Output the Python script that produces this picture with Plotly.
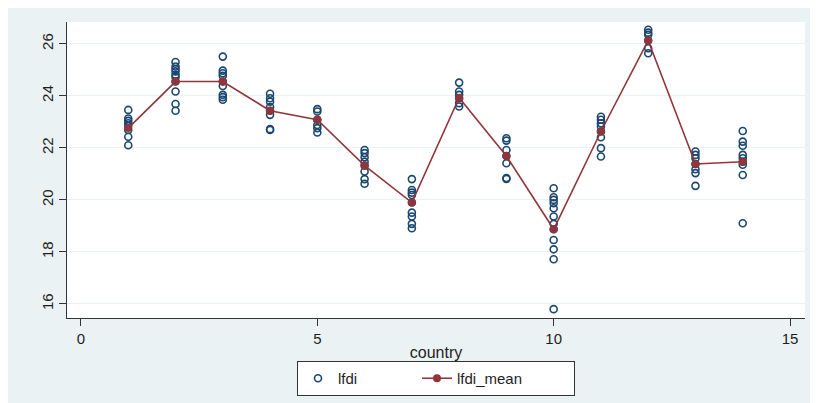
import plotly.graph_objects as go

# ---- data ----
c1 = [23.46, 23.13, 23.04, 22.95, 22.85, 22.69, 22.43, 22.10]
c2 = [25.30, 25.13, 25.03, 24.94, 24.81, 24.72, 24.55, 24.17, 23.69, 23.43]
c3 = [25.51, 24.97, 24.87, 24.77, 24.55, 24.38, 24.04, 23.95, 23.85]
c4 = [24.08, 23.91, 23.78, 23.57, 23.43, 23.27, 22.69, 22.72]
c5 = [23.49, 23.40, 23.08, 22.88, 22.76, 22.59]
c6 = [21.92, 21.80, 21.64, 21.47, 21.32, 21.09, 20.80, 20.62]
c7 = [20.80, 20.38, 20.28, 20.19, 19.90, 19.51, 19.36, 19.08, 18.91]
c8 = [24.51, 24.17, 24.04, 23.91, 23.72, 23.59]
c9 = [22.37, 22.28, 21.92, 21.69, 21.41, 20.81, 20.84]
c10 = [20.45, 20.10, 20.00, 19.87, 19.68, 19.36, 19.08, 18.87, 18.46, 18.10, 17.72, 15.80]
c11 = [23.20, 23.08, 22.95, 22.82, 22.63, 22.41, 21.99, 21.67]
c12 = [26.54, 26.43, 26.35, 26.13, 25.83, 25.64]
c13 = [21.86, 21.73, 21.60, 21.38, 21.18, 21.03, 20.54]
c14 = [22.65, 22.24, 22.08, 21.73, 21.60, 21.47, 21.35, 20.96, 19.10]

lfdi_by_country = [c1, c2, c3, c4, c5, c6, c7, c8, c9, c10, c11, c12, c13, c14]
countries = list(range(1, 15))
lfdi_mean = [22.76, 24.55, 24.55, 23.43, 23.08, 21.32, 19.90, 23.93,
             21.69, 18.87, 22.63, 26.13, 21.38, 21.47]

x_ticks = [0, 5, 10, 15]
y_ticks = [16, 18, 20, 22, 24, 26]

# flatten scatter points
pts_x, pts_y = [], []
for c, vals in zip(countries, lfdi_by_country):
    pts_x += [c] * len(vals)
    pts_y += vals

NAVY = "#1a476f"
MAROON = "#90353b"
BG = "#EAF2F3"
TXT = "#1e1e1e"
FONT = "Liberation Sans, Arial, sans-serif"

fig = go.Figure()
fig.add_trace(go.Scatter(
    x=pts_x, y=pts_y, mode="markers", name="lfdi", legendwidth=74,
    marker=dict(symbol="circle-open", size=7, color=NAVY, line=dict(width=1.6, color=NAVY)),
))
fig.add_trace(go.Scatter(
    x=countries, y=lfdi_mean, mode="lines+markers", name="lfdi_mean", legendwidth=112,
    line=dict(color=MAROON, width=1.6),
    marker=dict(symbol="circle", size=8, color=MAROON),
))

# page body has an 8px margin at top/left
W, H = 810, 395
L, R, T, B = 59, 13, 14, 85

fig.update_layout(
    width=W, height=H,
    margin=dict(l=L, r=R, t=T, b=B, autoexpand=False),
    paper_bgcolor=BG, plot_bgcolor="white",
    font=dict(family=FONT, size=15, color=TXT),
    showlegend=True,
    legend=dict(
        orientation="h", x=0.5, xanchor="center",
        yref="container", y=(H - (361 - 8)) / H, yanchor="top",
        bgcolor="white", bordercolor="#333333", borderwidth=1,
        font=dict(family=FONT, size=15, color=TXT),
    ),
    xaxis=dict(
        range=[-0.296, 15.317], tickvals=x_ticks, ticks="outside", ticklen=7,
        tickcolor="#333333", showgrid=False, zeroline=False,
        showline=True, linecolor="#333333", linewidth=1,
        title=dict(text="country", standoff=2, font=dict(size=16)),
        tickfont=dict(size=15),
    ),
    yaxis=dict(
        range=[15.46, 26.84], tickvals=y_ticks, ticks="outside", ticklen=7,
        tickcolor="#333333", showgrid=True, gridcolor=BG, gridwidth=1.2,
        zeroline=False, showline=True, linecolor="#333333", linewidth=1,
        tickangle=-90, tickfont=dict(size=15),
    ),
)

fig.write_html("out.html")
